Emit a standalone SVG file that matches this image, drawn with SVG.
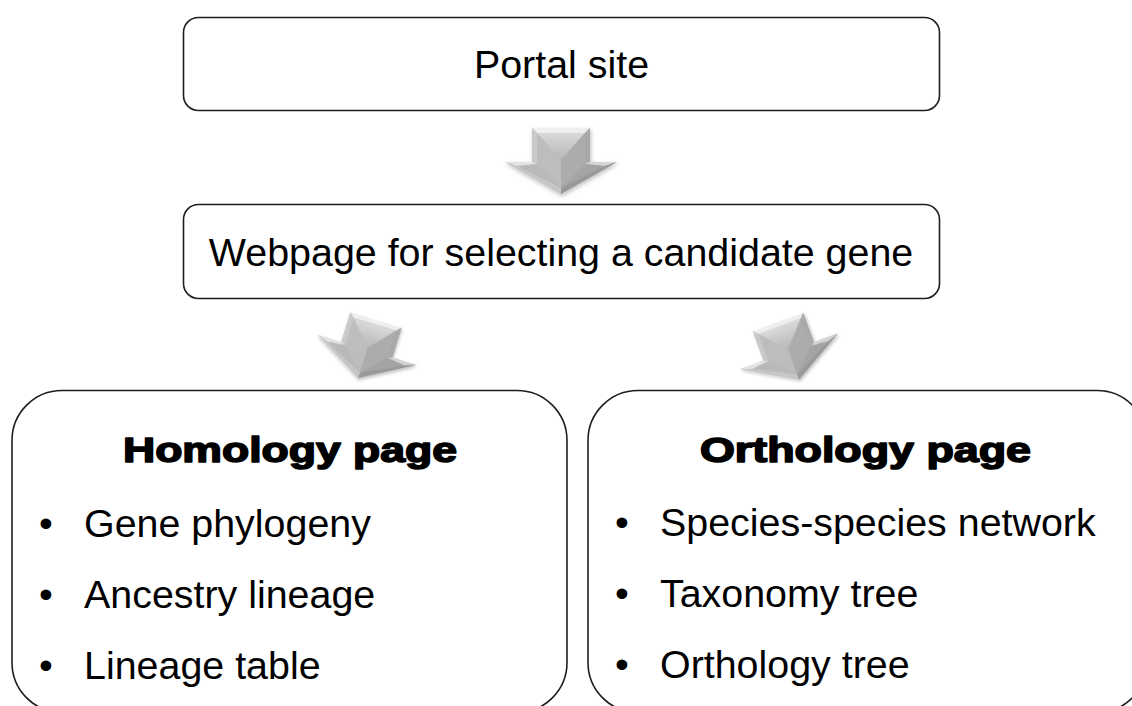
<svg xmlns="http://www.w3.org/2000/svg" width="1132" height="706" viewBox="0 0 1132 706">
  <style>
    .box { fill: #ffffff; stroke: #1e1e1e; stroke-width: 1.6; }
    .txt { font-family: "Liberation Sans", Arial, sans-serif; font-size: 39.4px; fill: #000000; }
    .mid { text-anchor: middle; }
    .head { font-family: "Liberation Sans", Arial, sans-serif; font-weight: bold; font-size: 35px; fill: #000000; stroke: #000000; stroke-width: 1.6; stroke-linejoin: round; }
  </style>
  <defs>
    <linearGradient id="baseGrad" x1="0" y1="0" x2="1" y2="0">
      <stop offset="0" stop-color="#cfcfcf"/>
      <stop offset="1" stop-color="#9c9c9c"/>
    </linearGradient>
    <linearGradient id="topFacet" x1="0" y1="0" x2="0" y2="1">
      <stop offset="0" stop-color="#d9d9d9"/>
      <stop offset="1" stop-color="#b6b6b6"/>
    </linearGradient>
    <filter id="soft" x="-30%" y="-30%" width="160%" height="160%">
      <feDropShadow dx="1" dy="2" stdDeviation="2" flood-color="#000" flood-opacity="0.25"/>
    </filter>
    <!-- bevelled block arrow, origin at the centre of the shaft's top edge, pointing down -->
    <g id="bevelArrow" filter="url(#soft)">
      <polygon points="-29,0 29,0 29,34 56,34 0,66 -56,34 -29,34" fill="url(#baseGrad)"/>
      <polygon points="-29,0 29,0 24,5 -24,5" fill="#efefef"/>
      <polygon points="-29,0 -24,5 -24,36 -29,34" fill="#c9c9c9"/>
      <polygon points="29,0 24,5 24,36 29,34" fill="#a9a9a9"/>
      <polygon points="-24,5 24,5 0,32" fill="url(#topFacet)"/>
      <polygon points="-24,5 0,32 0,60 -24,36" fill="#bdbdbd"/>
      <polygon points="24,5 0,32 0,60 24,36" fill="#acacac"/>
      <polygon points="-56,34 -29,34 -24,36 -44,38" fill="#e4e4e4"/>
      <polygon points="56,34 29,34 24,36 44,38" fill="#d6d6d6"/>
      <polygon points="-44,38 -24,36 0,60" fill="#b9b9b9"/>
      <polygon points="44,38 24,36 0,60" fill="#a4a4a4"/>
      <polygon points="-56,34 -44,38 0,60 0,66" fill="#c6c6c6"/>
      <polygon points="56,34 44,38 0,60 0,66" fill="#999999"/>
    </g>
  </defs>

  <g id="connectors">
    <use href="#bevelArrow" transform="translate(561,128)"/>
    <use href="#bevelArrow" transform="translate(376,320) rotate(17) scale(0.92,0.92)"/>
    <use href="#bevelArrow" transform="translate(778,322) rotate(-20) scale(0.93,0.93)"/>
  </g>

  <g id="portal">
    <rect class="box" x="183.5" y="17.5" width="756" height="93" rx="15"/>
    <text class="txt mid" x="561.5" y="78">Portal site</text>
  </g>

  <g id="gene-select">
    <rect class="box" x="183.5" y="204.5" width="756" height="94" rx="15"/>
    <text class="txt mid" x="561" y="266">Webpage for selecting a candidate gene</text>
  </g>

  <g id="homology">
    <rect class="box" x="12" y="390.5" width="555" height="322" rx="50"/>
    <text class="head" x="123" y="462" textLength="334" lengthAdjust="spacingAndGlyphs">Homology page</text>
    <text class="txt" x="39" y="537">•</text>
    <text class="txt" x="84" y="537">Gene phylogeny</text>
    <text class="txt" x="39" y="608">•</text>
    <text class="txt" x="84" y="608">Ancestry lineage</text>
    <text class="txt" x="39" y="679">•</text>
    <text class="txt" x="84" y="679">Lineage table</text>
  </g>

  <g id="orthology">
    <rect class="box" x="588" y="390.5" width="559" height="322" rx="50"/>
    <text class="head" x="700" y="462" textLength="331" lengthAdjust="spacingAndGlyphs">Orthology page</text>
    <text class="txt" x="615" y="536">•</text>
    <text class="txt" x="660" y="536">Species-species network</text>
    <text class="txt" x="615" y="607">•</text>
    <text class="txt" x="660" y="607">Taxonomy tree</text>
    <text class="txt" x="615" y="678">•</text>
    <text class="txt" x="660" y="678">Orthology tree</text>
  </g>
</svg>
